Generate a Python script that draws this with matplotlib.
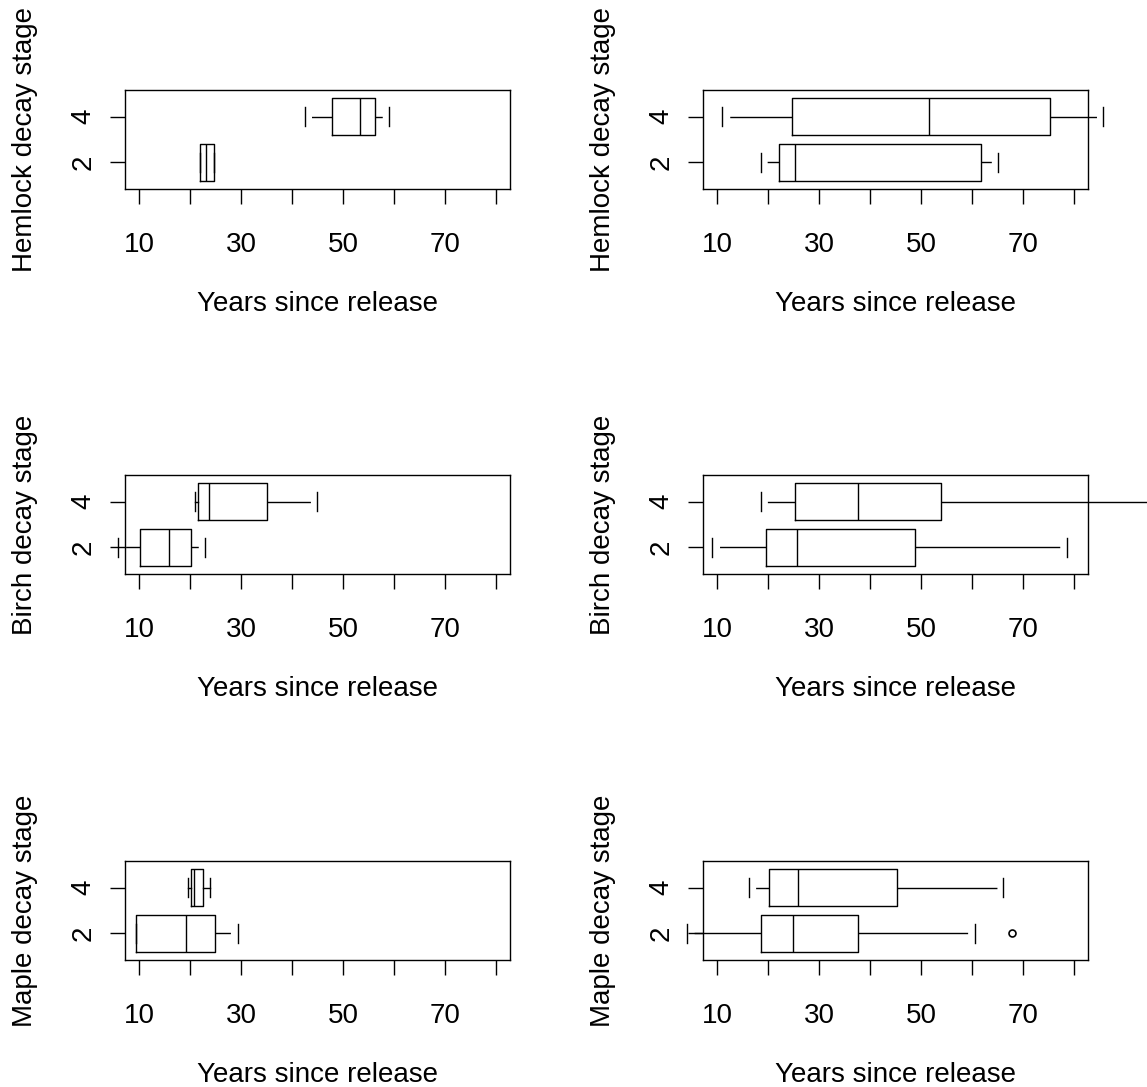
import matplotlib
matplotlib.use("Agg")
import matplotlib.pyplot as plt

plt.rcParams['font.family'] = ['Liberation Sans', 'DejaVu Sans']
plt.rcParams['lines.scale_dashes'] = False

# five-number summaries: whislo, q1, median, q3, whishi
# order inside each panel: stage 2, stage 4
stages = ['2', '4']
species = ['Hemlock', 'Birch', 'Maple']

hemlock_left = [[21.9, 21.9, 23.2, 24.6, 24.6], [42.5, 47.9, 53.3, 56.3, 59.1]]
hemlock_right = [[18.5, 22.2, 25.3, 61.7, 65.1], [11.0, 24.6, 51.5, 75.3, 85.8]]
birch_left = [[5.9, 10.1, 15.8, 20.1, 22.9], [20.9, 21.5, 23.6, 35.0, 44.9]]
birch_right = [[9.0, 19.5, 25.6, 48.9, 78.7], [18.5, 25.3, 37.7, 54.0, 100.0]]
maple_left = [[9.3, 9.3, 19.2, 24.9, 29.3], [19.5, 20.1, 20.8, 22.6, 23.9]]
maple_right = [[4.0, 18.5, 24.9, 37.7, 60.6], [16.2, 20.2, 25.8, 45.2, 66.2]]
maple_right_fliers = [[67.8], []]

panels = [(hemlock_left, hemlock_right), (birch_left, birch_right), (maple_left, maple_right)]
fliers = [([[], []], [[], []]), ([[], []], [[], []]), ([[], []], maple_right_fliers)]

xticks = [10, 20, 30, 40, 50, 60, 70, 80]
xticklabels = ['10', '', '30', '', '50', '', '70', '']

W, H = 1147, 1087
fig = plt.figure(figsize=(W / 100, H / 100), dpi=100)

col_left = [125, 703]
col_width = 385
row_top = [90, 475, 861]
row_height = 99

lw = 1.0
for r in range(3):
    for c in range(2):
        ax = fig.add_axes([col_left[c] / W, 1 - (row_top[r] + row_height) / H,
                           col_width / W, row_height / H])
        summ = panels[r][c]
        stats = []
        for i in range(2):
            lo, q1, med, q3, hi = summ[i]
            stats.append(dict(whislo=lo, q1=q1, med=med, q3=q3, whishi=hi,
                              fliers=fliers[r][c][i]))
        props = dict(color='black', linewidth=lw)
        kw = dict(positions=[1, 2], widths=0.8, capwidths=0.4,
                  boxprops=props, whiskerprops=props, capprops=props,
                  medianprops=props,
                  flierprops=dict(marker='o', markerfacecolor='none',
                                  markeredgecolor='black', markersize=5,
                                  markeredgewidth=1.2))
        try:
            art = ax.bxp(stats, orientation='horizontal', **kw)
        except TypeError:
            art = ax.bxp(stats, vert=False, **kw)
        for key in art:
            for a in art[key]:
                a.set_clip_on(False)

        ax.set_xlim(7.2, 82.8)
        ax.set_ylim(0.42, 2.58)
        ax.set_xticks(xticks)
        ax.set_xticklabels(xticklabels)
        ax.set_yticks([1, 2])
        ax.set_yticklabels(stages, rotation=90, va='center')
        ax.tick_params(axis='x', length=11, width=lw, pad=20, labelsize=20)
        ax.tick_params(axis='y', length=11, width=lw, pad=9.5, labelsize=20)
        for s in ax.spines.values():
            s.set_linewidth(lw)
        ax.set_xlabel('Years since release', fontsize=20, labelpad=24)
        ax.set_ylabel(species[r] + ' decay stage', fontsize=20, labelpad=23.5)

        # whiskers stop a few pixels short of the staple, like the original
        for wl in art['whiskers']:
            xs, ys = wl.get_xdata(), wl.get_ydata()
            p0 = ax.transData.transform((xs[0], ys[0]))
            p1 = ax.transData.transform((xs[1], ys[1]))
            length = abs(p1[0] - p0[0])
            if length > 9:
                wl.set_dashes([(length - 7) * 0.72, 400])

fig.savefig('out.png', dpi=100, facecolor='white')
